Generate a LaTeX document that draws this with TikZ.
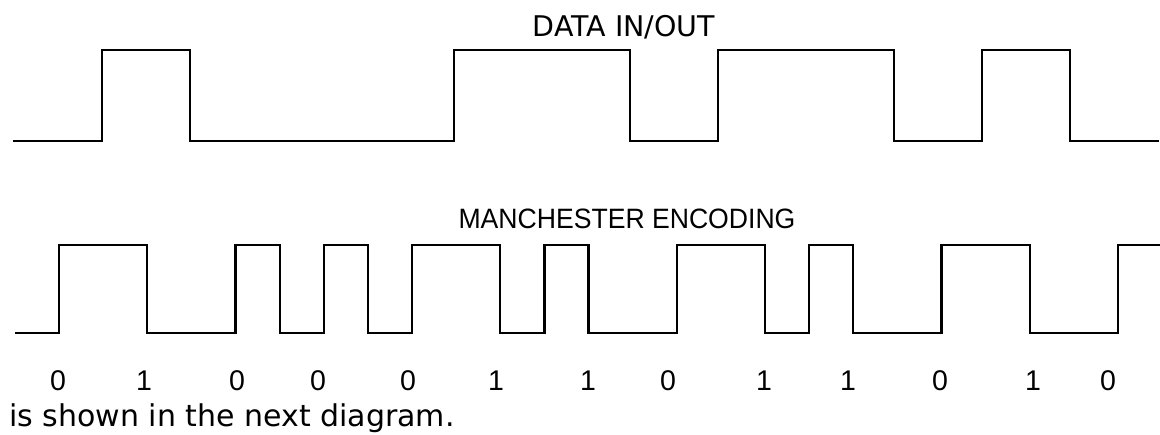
\documentclass[tikz,border=0pt]{standalone}
\usepackage{fontspec}
\setmainfont{Liberation Sans}
\newfontfamily\dejavu{DejaVu Sans}
\begin{document}
\begin{tikzpicture}[x=1pt,y=-1pt,
  wave/.style={line width=2.3pt,line join=miter,black},
  title/.style={inner sep=0pt,anchor=base,font=\fontsize{28}{30}\selectfont},
  bitlabel/.style={inner sep=0pt,anchor=base,font=\fontsize{28.5}{30}\selectfont},
  caption/.style={inner sep=0pt,anchor=base west,font=\dejavu\fontsize{30}{32}\selectfont}]
\useasboundingbox (0,0) rectangle (1160,434);

% NRZ data signal: bits 0 1 0 0 0 1 1 0 1 1 0 1 0
\def\Lo{141}\def\Hi{50}
\draw[wave] (13,\Lo) -- (102,\Lo) -- (102,\Hi) -- (190,\Hi) -- (190,\Lo)
  -- (454,\Lo) -- (454,\Hi) -- (630,\Hi) -- (630,\Lo)
  -- (718,\Lo) -- (718,\Hi) -- (894,\Hi) -- (894,\Lo)
  -- (982,\Lo) -- (982,\Hi) -- (1070,\Hi) -- (1070,\Lo) -- (1159,\Lo);
\node[title,font=\dejavu\fontsize{28.5}{30}\selectfont] (data) at (624,36) {DATA IN/OUT};

% Manchester encoded signal (0 = rising mid-bit, 1 = falling mid-bit)
\def\mL{333}\def\mH{245}
\draw[wave] (15,\mL) -- (59,\mL) -- (59,\mH) -- (147.25,\mH) -- (147.25,\mL)
  -- (235.5,\mL) -- (235.5,\mH) -- (279.75,\mH) -- (279.75,\mL)
  -- (323.75,\mL) -- (323.75,\mH) -- (368,\mH) -- (368,\mL)
  -- (412,\mL) -- (412,\mH) -- (500.25,\mH) -- (500.25,\mL)
  -- (544.5,\mL) -- (544.5,\mH) -- (588.5,\mH) -- (588.5,\mL)
  -- (676.75,\mL) -- (676.75,\mH) -- (765,\mH) -- (765,\mL)
  -- (809.25,\mL) -- (809.25,\mH) -- (853.25,\mH) -- (853.25,\mL)
  -- (941.5,\mL) -- (941.5,\mH) -- (1029.75,\mH) -- (1029.75,\mL)
  -- (1118,\mL) -- (1118,\mH) -- (1160,\mH);
\node[title] (manch) at (627,228) {\scalebox{0.95}[1]{MANCHESTER ENCODING}};

% bit values under each cell
\foreach \x/\b [count=\i] in {58/0,144/1,237/0,318/0,408/0,496/1,588/1,668/0,764/1,848/1,940/0,1033/1,1108/0}
  \node[bitlabel] (bit\i) at (\x,390) {\b};

\node[caption] (cap) at (9,426) {is shown in the next diagram.};
\end{tikzpicture}
\end{document}
